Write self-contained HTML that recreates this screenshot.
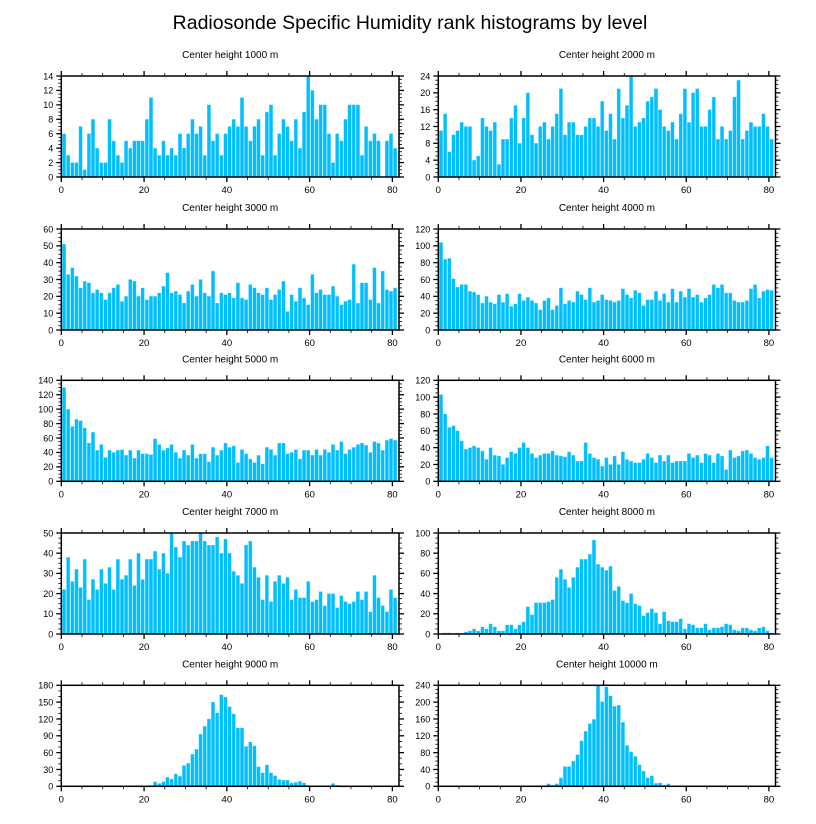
<!DOCTYPE html>
<html><head><meta charset="utf-8">
<style>
html,body{margin:0;padding:0;background:#fff;}
svg{display:block;font-family:"Liberation Sans",Arial,sans-serif;}
</style></head>
<body>
<svg id="chart" width="816" height="824" viewBox="0 0 816 824" xmlns="http://www.w3.org/2000/svg">
<rect x="0" y="0" width="816" height="824" fill="#fff"/>
<text x="410" y="29" font-size="19.5" text-anchor="middle">Radiosonde Specific Humidity rank histograms by level</text>
</svg>
<script>
const panelTitles = ["Center height 1000 m","Center height 2000 m","Center height 3000 m","Center height 4000 m","Center height 5000 m","Center height 6000 m","Center height 7000 m","Center height 8000 m","Center height 9000 m","Center height 10000 m"];
const yMaxes = [14,24,60,120,140,120,50,100,180,240];
const ySteps = [2,4,10,20,20,20,10,20,30,40];
const xTicks = [0,20,40,60,80];
const h1000 = [6,3,2,2,7,1,6,8,4,2,2,8,5,3,2,5,4,5,5,5,8,11,4,3,5,3,4,3,6,4,6,8,6,7,3,10,5,6,3,6,7,8,7,11,7,5,7,8,3,9,10,3,6,8,7,5,8,4,9,14,12,8,10,10,6,2,6,5,8,10,10,10,3,7,5,6,5,0,5,6,4];
const h2000 = [11,15,6,10,11,13,12,12,4,5,14,12,11,13,3,9,9,14,17,8,14,20,10,8,12,13,9,12,15,21,10,13,13,10,10,12,14,14,12,18,11,15,9,21,14,17,24,12,13,14,18,19,21,16,12,11,13,9,15,21,13,20,21,12,12,16,19,9,12,9,11,19,23,9,11,13,12,12,15,12,9];
const h3000 = [51,33,37,32,25,29,28,22,24,22,18,22,25,27,17,20,30,29,20,25,18,20,20,22,26,34,22,23,21,16,23,27,20,30,22,20,35,16,22,21,22,19,28,19,18,27,25,22,21,25,18,21,24,29,11,21,17,25,19,15,33,22,24,21,21,26,20,15,17,18,39,16,28,28,18,37,16,35,24,23,25];
const h4000 = [104,84,85,61,51,54,54,46,45,42,32,40,33,31,42,33,43,28,31,43,35,39,35,32,24,35,38,24,29,50,31,35,33,46,42,36,50,33,35,42,36,35,33,35,49,42,38,47,44,29,36,36,46,35,43,33,49,33,46,39,49,39,42,33,38,42,54,50,54,44,44,35,33,33,35,49,54,38,46,48,47];
const h5000 = [130,100,76,86,84,74,53,68,43,51,33,43,40,43,44,36,43,32,43,38,38,37,59,51,43,46,51,40,32,43,36,51,32,38,38,27,47,36,43,53,47,49,26,44,38,31,26,36,24,47,44,36,53,53,38,40,44,31,43,43,36,44,36,44,40,51,43,55,38,44,47,51,53,50,40,55,53,43,57,59,57];
const h6000 = [103,80,64,66,60,48,38,40,42,40,36,26,40,31,30,20,28,35,33,40,46,40,33,28,31,33,33,36,31,30,29,35,31,24,24,46,33,28,26,18,28,20,30,20,35,26,24,22,22,26,33,28,22,31,24,31,22,24,24,24,33,28,31,22,33,31,22,33,30,14,37,28,30,36,37,33,28,26,28,42,28];
const h7000 = [22,38,26,32,23,37,17,27,22,32,25,33,22,37,27,29,37,24,40,27,37,37,41,32,40,30,50,43,38,46,44,46,46,50,46,44,44,48,40,47,40,31,29,25,44,46,33,28,17,29,16,26,29,25,28,17,22,18,18,26,16,17,21,14,20,20,13,19,16,15,16,21,17,21,11,29,18,14,11,22,18];
const h8000 = [0,1,1,0,1,0,2,3,5,3,7,5,10,7,3,3,9,9,5,9,12,27,19,31,31,31,32,34,56,64,54,46,56,66,74,74,79,93,69,66,63,67,43,47,33,31,40,30,28,18,21,25,21,10,22,13,12,12,15,5,10,9,6,6,10,4,6,6,7,10,9,4,3,6,6,4,3,6,7,3,1];
const h9000 = [0,0,0,0,0,0,0,0,0,0,0,0,0,0,1,0,0,1,1,0,1,0,8,5,8,16,13,22,18,37,41,57,66,93,107,120,150,131,163,159,142,129,104,104,71,79,72,35,24,38,24,19,12,11,11,6,7,9,6,2,1,1,1,0,1,5,2,1,1,0,0,1,0,0,0,1,0,1,0,1,0];
const h10000 = [0,0,0,0,0,0,0,0,0,0,0,0,0,0,0,0,0,0,0,0,0,0,0,0,0,0,6,3,6,20,47,47,60,75,108,131,149,159,240,201,236,215,190,193,152,97,82,71,51,36,20,25,7,8,3,6,1,0,1,0,1,0,0,1,1,0,0,0,0,0,0,0,0,0,1,0,0,0,0,0,0];
const seriesList = [h1000,h2000,h3000,h4000,h5000,h6000,h7000,h8000,h9000,h10000];

const NS = "http://www.w3.org/2000/svg";
const svg = document.getElementById("chart");
const colLeft = [61.3, 438.3];
const colRight = [399, 775.5];
const rowTop = [76, 229, 380.3, 533, 685.3];
const panelH = 101;
const xMaxDomain = 81.6;

function mk(tag, attrs, parent) {
  const e = document.createElementNS(NS, tag);
  for (const k in attrs) e.setAttribute(k, attrs[k]);
  parent.appendChild(e);
  return e;
}

seriesList.forEach((data, p) => {
  const col = p % 2, row = Math.floor(p / 2);
  const x0 = colLeft[col], x1 = colRight[col];
  const y0 = rowTop[row], yb = y0 + panelH;
  const sx = (x1 - x0) / xMaxDomain;
  const yMax = yMaxes[p], step = ySteps[p];
  const xs = v => x0 + v * sx;
  const ys = v => yb - v / yMax * panelH;

  const g = mk("g", {}, svg);
  
  

  const t = mk("text", {x: (x0 + x1) / 2, y: y0 - 18, "font-size": 10, "text-anchor": "middle"}, g);
  t.textContent = panelTitles[p];
  
  

  const bars = mk("g", {}, g);
  
  
  data.forEach((v, i) => {
    if (v <= 0) return;
    const bx = xs(i + 0.25);
    const r = mk("rect", {x: bx, y: ys(v), width: Math.max(sx - 0.7, 0.5), height: yb - ys(v), fill: "#00BFFF", stroke: "#7fdcff", "stroke-width": 0.3}, bars);
    
    
  });

  // frame
  const fr = mk("rect", {x: x0, y: y0, width: x1 - x0, height: panelH, fill: "none", stroke: "#000", "stroke-width": 1.5}, g);
  
  

  // x ticks (top & bottom outward)
  const xt = mk("g", {stroke: "#000"}, g);
  
  
  for (let v = 0; v <= 80; v += 5) {
    const major = v % 20 === 0;
    const L = major ? 5 : 3;
    const X = xs(v);
    mk("line", {x1: X, x2: X, y1: yb, y2: yb + L, "stroke-width": major ? 1.3 : 0.8}, xt);
    mk("line", {x1: X, x2: X, y1: y0, y2: y0 - L, "stroke-width": major ? 1.3 : 0.8}, xt);
  }
  xTicks.forEach(v => {
    const lb = mk("text", {x: xs(v), y: yb + 16, "font-size": 9.5, "text-anchor": "middle", stroke: "none"}, xt);
    lb.textContent = v;
    
    
  });

  // y ticks (left & right outward)
  const yt = mk("g", {stroke: "#000"}, g);
  
  
  const sub = (step % 3 === 0 && step % 4 !== 0) || step === 30 ? 3 : 4;
  const minor = step / sub;
  for (let k = 0; k <= Math.round(yMax / minor); k++) {
    const v = k * minor;
    const major = k % sub === 0;
    const L = major ? 5 : 3;
    const Y = ys(v);
    mk("line", {x1: x0, x2: x0 - L, y1: Y, y2: Y, "stroke-width": major ? 1.3 : 0.8}, yt);
    mk("line", {x1: x1, x2: x1 + L, y1: Y, y2: Y, "stroke-width": major ? 1.3 : 0.8}, yt);
  }
  for (let v = 0; v <= yMax; v += step) {
    const lb = mk("text", {x: x0 - 8, y: ys(v) + 3.3, "font-size": 9, "text-anchor": "end", stroke: "none"}, yt);
    lb.textContent = v;
    
    
  }
});
</script>
</body></html>
